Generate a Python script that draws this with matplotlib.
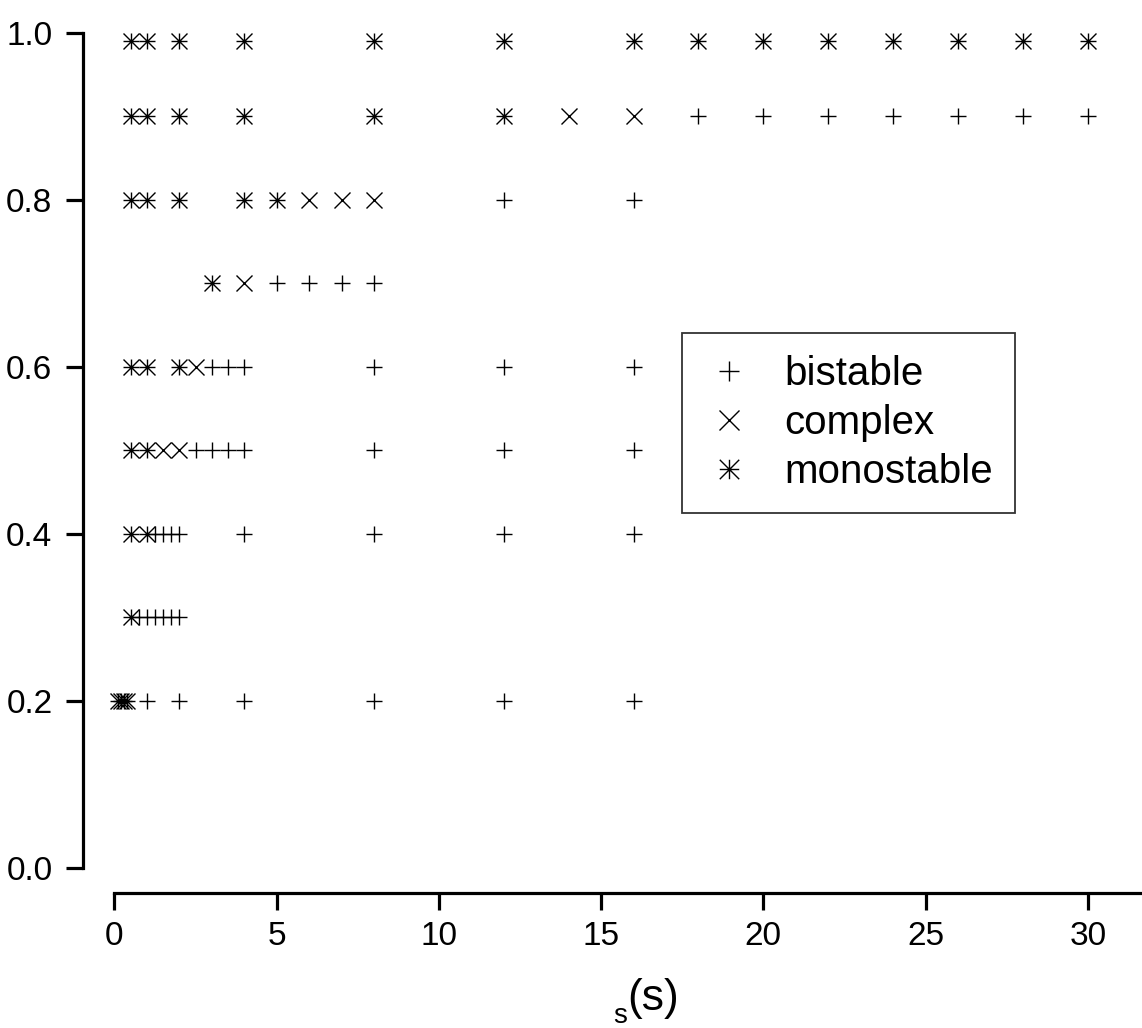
import matplotlib
matplotlib.use("Agg")
import matplotlib.pyplot as plt
from matplotlib.path import Path
from matplotlib.lines import Line2D

plt.rcParams['font.family'] = ['Liberation Sans', 'DejaVu Sans']

# Regime of each simulated parameter pair (x: time constant, y: parameter value)
bistable_x = [18, 20, 22, 24, 26, 28, 30,
              12, 16,
              5, 6, 7, 8,
              3, 3.5, 4, 8, 12, 16,
              2.5, 3, 3.5, 4, 8, 12, 16,
              1.25, 1.5, 1.75, 2, 4, 8, 12, 16,
              0.75, 1, 1.25, 1.5, 1.75, 2,
              1, 2, 4, 8, 12, 16]
bistable_y = [0.9] * 7 + [0.8] * 2 + [0.7] * 4 + [0.6] * 6 + [0.5] * 7 + \
             [0.4] * 8 + [0.3] * 6 + [0.2] * 6

complex_x = [14, 16, 6, 7, 8, 4, 2.5, 1.5, 2]
complex_y = [0.9, 0.9, 0.8, 0.8, 0.8, 0.7, 0.6, 0.5, 0.5]

monostable_x = [0.5, 1, 2, 4, 8, 12, 16, 18, 20, 22, 24, 26, 28, 30,
                0.5, 1, 2, 4, 8, 12,
                0.5, 1, 2, 4, 5,
                3,
                0.5, 1, 2,
                0.5, 1,
                0.5, 1,
                0.5,
                0.1, 0.2, 0.3, 0.4]
monostable_y = [0.99] * 14 + [0.9] * 6 + [0.8] * 5 + [0.7] + [0.6] * 3 + \
               [0.5] * 2 + [0.4] * 2 + [0.3] + [0.2] * 4

x_ticks = [0, 5, 10, 15, 20, 25, 30]
y_ticks = [0.0, 0.2, 0.4, 0.6, 0.8, 1.0]
y_ticklabels = ["0.0", "0.2", "0.4", "0.6", "0.8", "1.0"]

# eight-armed asterisk marker
asterisk = Path(
    [(-1, 0), (1, 0), (0, -1), (0, 1), (-1, -1), (1, 1), (-1, 1), (1, -1)],
    [Path.MOVETO, Path.LINETO] * 4,
)

W, H = 1142, 1028
fig = plt.figure(figsize=(W / 100, H / 100), dpi=100)

ax_left, ax_bottom, ax_top = 83, 893, 16
ax = fig.add_axes([ax_left / W, (H - ax_bottom) / H,
                   (W - ax_left) / W, (ax_bottom - ax_top) / H])

ms = 11.5
mew = 1.0
ax.plot(bistable_x, bistable_y, linestyle='none', marker='+', ms=ms,
        mew=mew, color='black', label='bistable')
ax.plot(complex_x, complex_y, linestyle='none', marker='x', ms=ms,
        mew=mew, color='black', label='complex')
ax.plot(monostable_x, monostable_y, linestyle='none', marker=asterisk, ms=ms,
        mew=mew, color='black', label='monostable')

ax.set_xlim(-0.97, 31.67)
ax.set_ylim(-0.03, 1.02)

for side in ('top', 'right'):
    ax.spines[side].set_visible(False)
ax.spines['left'].set_bounds(0, 1)
ax.spines['bottom'].set_bounds(0, 31.67)
for side in ('left', 'bottom'):
    ax.spines[side].set_linewidth(2.3)

ax.set_xticks(x_ticks)
ax.set_xticklabels([str(t) for t in x_ticks])
ax.set_yticks(y_ticks)
ax.set_yticklabels(y_ticklabels)
ax.tick_params(axis='both', direction='out', length=12, width=2.3,
               labelsize=24)
ax.tick_params(axis='y', pad=10)
ax.tick_params(axis='x', pad=8)

# axis title: subscript followed by the unit
fig.text(613 / W, 1 - 1023 / H, 's', fontsize=20, ha='left', va='baseline')
fig.text(627 / W, 1 - 1010 / H, '(s)', fontsize=32, ha='left', va='baseline')

handles = [
    Line2D([], [], linestyle='none', marker='+', ms=14, mew=1.0, color='black'),
    Line2D([], [], linestyle='none', marker='x', ms=14, mew=1.0, color='black'),
    Line2D([], [], linestyle='none', marker=asterisk, ms=14, mew=1.0, color='black'),
]
leg = ax.legend(handles, ['bistable', 'complex', 'monostable'],
                loc='upper left',
                bbox_to_anchor=(682 / W, 1 - 333 / H),
                bbox_transform=fig.transFigure,
                fontsize=29, frameon=True, fancybox=False,
                edgecolor='black', borderpad=0.55, labelspacing=0.27,
                handlelength=1.25, handletextpad=0.75, borderaxespad=0)
leg.get_frame().set_linewidth(1.3)

fig.savefig('out.png', dpi=100)
